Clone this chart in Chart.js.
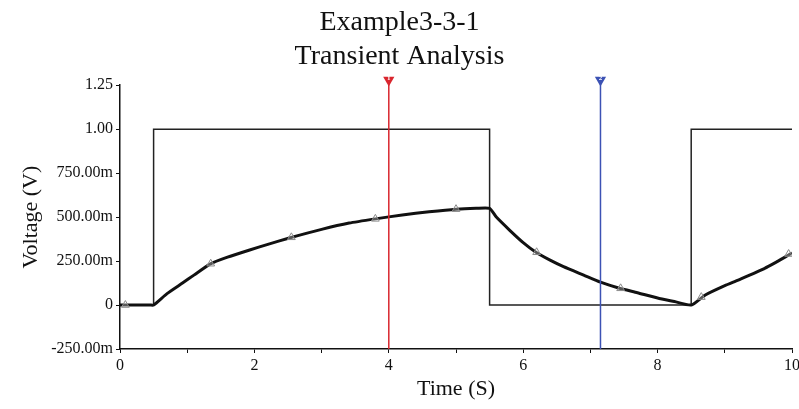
<!DOCTYPE html>
<html>
<head>
<meta charset="utf-8">
<script src="https://cdn.jsdelivr.net/npm/chart.js@4.4.1/dist/chart.umd.min.js"></script>
<style>
  html, body { margin: 0; padding: 0; background: #fff; }
  #wrap { width: 799px; height: 409px; position: relative; }
</style>
</head>
<body>
<div id="wrap"><canvas id="transientChart"></canvas></div>
<script>
// Input square wave (V1)
const squareT = [0, 0.5, 0.5, 5.5, 5.5, 8.5, 8.5, 10];
const squareV = [0, 0, 1, 1, 0, 0, 1, 1];

// Capacitor voltage
const curveT = [0, 0.45, 0.5, 0.7, 0.93, 1.1, 1.34, 1.6, 1.93, 2.2, 2.52, 3.0, 3.41, 3.8, 4.2, 4.6, 5.0, 5.3, 5.5,
                5.6, 5.8, 6.0, 6.19, 6.4, 6.6, 6.9, 7.15, 7.42, 7.7, 8.0, 8.25, 8.5,
                8.71, 9.0, 9.2, 9.6, 10];
const curveV = [0, 0, 0, 0.065, 0.125, 0.17, 0.233, 0.272, 0.313, 0.345, 0.381, 0.43, 0.466, 0.49, 0.512, 0.53, 0.545, 0.55, 0.55,
                0.50, 0.425, 0.355, 0.30, 0.255, 0.218, 0.17, 0.13, 0.097, 0.07, 0.04, 0.02, 0,
                0.057, 0.11, 0.142, 0.21, 0.295];

// Trace markers (small triangles)
const markT = [0.08, 1.35, 2.55, 3.8, 5.0, 6.2, 7.45, 8.65, 9.95];
const markV = [0, 0.235, 0.385, 0.49, 0.545, 0.30, 0.095, 0.045, 0.29];

// Cursors
const cursorT = [4, 7.15];
const cursorNames = ['1', '2'];
const cursorColors = ['#d9262e', '#3c52b4'];

// Axis ticks
const yTickValues = [-0.25, 0, 0.25, 0.5, 0.75, 1, 1.25];
const yTickLabels = ['-250.00m', '0', '250.00m', '500.00m', '750.00m', '1.00', '1.25'];
const xTickValues = [0, 1, 2, 3, 4, 5, 6, 7, 8, 9, 10];

const serif = "'Liberation Serif', 'Times New Roman', serif";
const cursorTop = 1.28;

function toPoints(xs, ys) {
    return xs.map((x, i) => ({ x: x, y: ys[i] }));
}

const cursorSets = cursorT.map((t, i) => ({
    label: 'Cursor ' + cursorNames[i],
    data: [{ x: t, y: -0.25 }, { x: t, y: cursorTop }],
    showLine: true,
    borderColor: cursorColors[i],
    backgroundColor: cursorColors[i],
    borderWidth: 1.5,
    pointStyle: 'triangle',
    rotation: 180,
    pointRadius: [0, 6.5],
    pointBorderWidth: 0,
    clip: false
}));

// white numbers inside the cursor flags
const cursorLabels = {
    id: 'cursorLabels',
    afterDatasetsDraw(chart) {
        const ctx = chart.ctx;
        const xs = chart.scales.x, ys = chart.scales.y;
        ctx.save();
        ctx.fillStyle = '#fff';
        ctx.font = 'bold 7px ' + serif;
        ctx.textAlign = 'center';
        ctx.textBaseline = 'middle';
        cursorT.forEach((t, i) => {
            ctx.fillText(cursorNames[i], xs.getPixelForValue(t), ys.getPixelForValue(cursorTop) - 2);
        });
        ctx.restore();
    }
};

const ctx = document.getElementById('transientChart').getContext('2d');
const transientChart = new Chart(ctx, {
    type: 'scatter',
    data: {
        datasets: [
            ...cursorSets,
            {
                label: 'markers',
                data: toPoints(markT, markV),
                showLine: false,
                pointStyle: 'triangle',
                pointRadius: 4.5,
                pointBorderWidth: 1,
                borderColor: '#8a8a8a',
                backgroundColor: 'rgba(255,255,255,0.3)'
            },
            {
                label: 'V(out)',
                data: toPoints(curveT, curveV),
                showLine: true,
                borderColor: '#111',
                borderWidth: 3,
                borderJoinStyle: 'round',
                pointRadius: 0,
                tension: 0.2
            },
            {
                label: 'V(in)',
                data: toPoints(squareT, squareV),
                showLine: true,
                borderColor: '#222',
                borderWidth: 1.5,
                pointRadius: 0
            }
        ]
    },
    options: {
        responsive: true,
        maintainAspectRatio: false,
        animation: false,
        layout: { padding: { left: 0, right: 0, top: 0, bottom: 0 } },
        plugins: {
            legend: { display: false },
            tooltip: { enabled: false },
            title: {
                display: true,
                text: ['Example3-3-1', 'Transient Analysis'],
                color: '#111',
                font: { family: serif, size: 28, weight: 'normal', lineHeight: 1.2 },
                padding: { top: 6, bottom: 12 }
            }
        },
        scales: {
            x: {
                type: 'linear',
                min: 0,
                max: 10,
                afterBuildTicks: s => { s.ticks = xTickValues.map(v => ({ value: v })); },
                afterFit: s => { s.height = 60; s.paddingLeft = 0; s.paddingRight = 7; },
                grid: { drawOnChartArea: false, tickLength: 4, color: '#111' },
                border: { color: '#111', width: 1.5 },
                ticks: {
                    color: '#111',
                    font: { family: serif, size: 16 },
                    padding: 3,
                    maxRotation: 0,
                    callback: v => (v % 2 === 0 ? String(v) : '')
                },
                title: {
                    display: true,
                    text: 'Time (S)',
                    color: '#111',
                    font: { family: serif, size: 22 },
                    padding: { top: 0, bottom: 7 }
                }
            },
            y: {
                type: 'linear',
                min: -0.25,
                max: 1.25,
                afterBuildTicks: s => { s.ticks = yTickValues.map(v => ({ value: v })); },
                afterFit: s => { s.width = 120; s.paddingTop = 0; s.paddingBottom = 0; },
                grid: { drawOnChartArea: false, tickLength: 4, color: '#111' },
                border: { color: '#111', width: 1.5 },
                ticks: {
                    color: '#111',
                    font: { family: serif, size: 16 },
                    padding: 3,
                    callback: (v, i) => yTickLabels[i]
                },
                title: {
                    display: true,
                    text: 'Voltage (V)',
                    color: '#111',
                    font: { family: serif, size: 22 },
                    padding: { top: 18, bottom: 0 }
                }
            }
        }
    },
    plugins: [cursorLabels]
});
</script>
</body>
</html>
